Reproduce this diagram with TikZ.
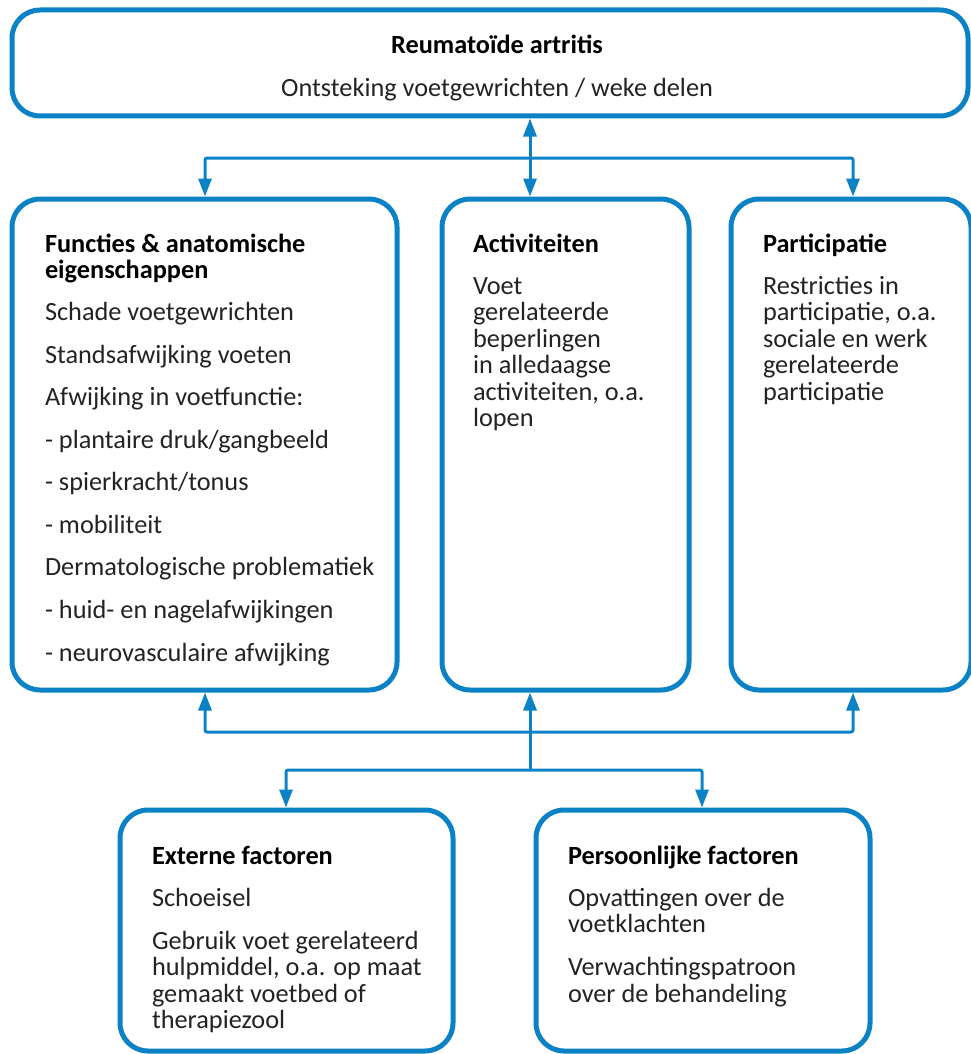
\documentclass[tikz,border=0pt]{standalone}
\usepackage{fontspec}
\setmainfont{Carlito}
\usetikzlibrary{arrows.meta}
\definecolor{icfblue}{RGB}{11,130,198}
\definecolor{icftext}{RGB}{35,35,35}
\begin{document}
\begin{tikzpicture}[x=1pt,y=-1pt,
  boxstyle/.style={draw=icfblue, line width=5pt, rounded corners=28pt, fill=white, inner sep=0pt, outer sep=2.5pt},
  conn/.style={draw=icfblue, line width=3pt, rounded corners=2pt},
  tip/.style={-{Triangle[length=18pt,width=13pt]}},
  t/.style={anchor=base west, inner sep=0pt, outer sep=0pt, yshift=-2pt, text=icftext, font=\fontsize{26.3}{26.5}\selectfont},
  th/.style={t, text=black, font=\fontsize{26.3}{26.5}\selectfont\bfseries},
  tc/.style={t, anchor=base},
  thc/.style={th, anchor=base}]
\useasboundingbox (0,0) rectangle (970,1054);

% boxes (stroke centre lines)
\node[boxstyle, minimum width=956pt, minimum height=106pt] (top) at (490,63) {};
\node[boxstyle, minimum width=385pt, minimum height=491pt] (fun) at (204.5,444.5) {};
\node[boxstyle, minimum width=247pt, minimum height=491pt] (act) at (565.5,444.5) {};
\node[boxstyle, minimum width=240pt, minimum height=491pt] (par) at (851,444.5) {};
\node[boxstyle, minimum width=333pt, minimum height=241pt] (ext) at (286.5,930.5) {};
\node[boxstyle, minimum width=334pt, minimum height=241pt] (per) at (703,930.5) {};

% junction coordinates
\coordinate (h1) at (530,158);
\coordinate (hl) at (205,158);
\coordinate (hr) at (853,158);
\coordinate (b1) at (530,732);
\coordinate (bl) at (205,732);
\coordinate (br) at (853,732);
\coordinate (b2) at (530,770);
\coordinate (cl) at (286,770);
\coordinate (cr) at (702,770);

% connectors top
\draw[conn, {Triangle[length=18pt,width=13pt]}-{Triangle[length=18pt,width=13pt]}] (top.south -| h1) -- (act.north -| h1);
\draw[conn, tip] (h1) -- (hl) -- (fun.north -| hl);
\draw[conn, tip] (h1) -- (hr) -- (par.north -| hr);

% connectors bottom
\draw[conn, tip] (b2) -- (act.south -| b2);
\draw[conn, tip] (b1) -- (bl) -- (fun.south -| bl);
\draw[conn, tip] (b1) -- (br) -- (par.south -| br);
\draw[conn, tip] (b2) -- (cl) -- (ext.north -| cl);
\draw[conn, tip] (b2) -- (cr) -- (per.north -| cr);

% top text
\node[thc] (tt1) at (497,52) {Reumatoïde artritis};
\node[tc] (tt2) at (497,95) {Ontsteking voetgewrichten / weke delen};

% functies
\node[th] (f1) at (45,250) {Functies \& anatomische};
\node[th] (f2) at (45,276) {eigenschappen};
\node[t] (f3) at (45,318) {Schade voetgewrichten};
\node[t] (f4) at (45,361) {Standsafwijking voeten};
\node[t] (f5) at (45,403.5) {Afwijking in voetfunctie:};
\node[t] (f6) at (45,446) {- plantaire druk/gangbeeld};
\node[t] (f7) at (45,488.5) {- spierkracht/tonus};
\node[t] (f8) at (45,531) {- mobiliteit};
\node[t] (f9) at (45,573.5) {Dermatologische problematiek};
\node[t] (f10) at (45,616) {- huid- en nagelafwijkingen};
\node[t] (f11) at (45,659) {- neurovasculaire afwijking};

% activiteiten
\node[th] (a1) at (473,250) {Activiteiten};
\node[t] (a2) at (473,292) {Voet};
\node[t] (a3) at (473,318.5) {gerelateerde};
\node[t] (a4) at (473,345) {beperlingen};
\node[t] (a5) at (473,371.5) {in alledaagse};
\node[t] (a6) at (473,398) {activiteiten, o.a.};
\node[t] (a7) at (473,424.5) {lopen};

% participatie
\node[th] (p1) at (763,250) {Participatie};
\node[t] (p2) at (763,292) {Restricties in};
\node[t] (p3) at (763,318.5) {participatie, o.a.};
\node[t] (p4) at (763,345) {sociale en werk};
\node[t] (p5) at (763,371.5) {gerelateerde};
\node[t] (p6) at (763,398) {participatie};

% externe factoren
\node[th] (e1) at (152,862) {Externe factoren};
\node[t] (e2) at (152,904) {Schoeisel};
\node[t] (e3) at (152,947) {Gebruik voet gerelateerd};
\node[t] (e4) at (152,973.5) {hulpmiddel, o.a. op maat};
\node[t] (e5) at (152,1000) {gemaakt voetbed of};
\node[t] (e6) at (152,1026.5) {therapiezool};

% persoonlijke factoren
\node[th] (q1) at (568,862) {Persoonlijke factoren};
\node[t] (q2) at (568,904) {Opvattingen over de};
\node[t] (q3) at (568,930.5) {voetklachten};
\node[t] (q4) at (568,973.5) {Verwachtingspatroon};
\node[t] (q5) at (568,1000) {over de behandeling};
\end{tikzpicture}
\end{document}
